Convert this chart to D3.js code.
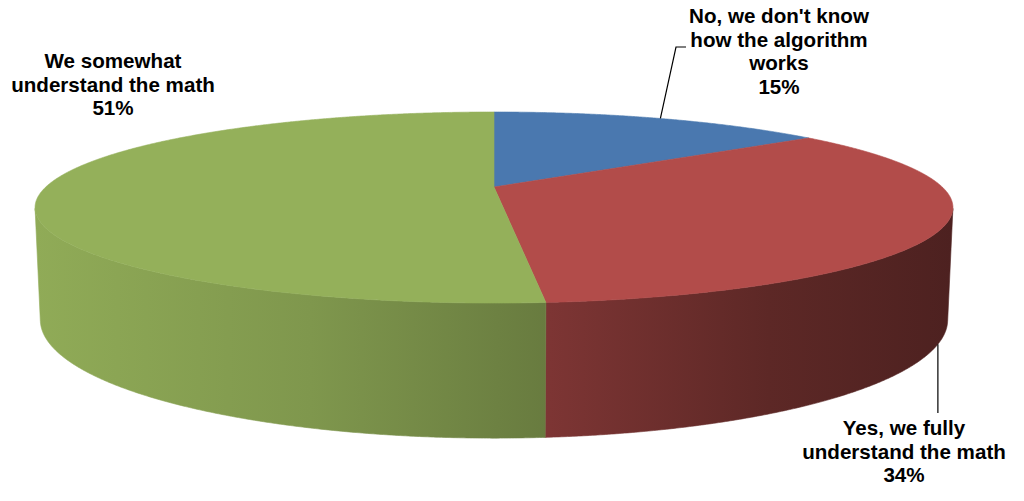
<!DOCTYPE html>
<html><head><meta charset="utf-8">
<script src="https://cdn.jsdelivr.net/npm/d3@7"></script>
<style>body{margin:0;background:#fff}svg{display:block}</style>
</head><body>
<svg id="chart" width="1024" height="501"></svg>
<script>
// ---- data ----
const categories = ["No, we don't know how the algorithm works", "Yes, we fully understand the math", "We somewhat understand the math"];
const values = [14.6, 33.95, 51.45];
const labelLines = [["No, we don't know", "how the algorithm", "works"], ["Yes, we fully", "understand the math"], ["We somewhat", "understand the math"]];
const colors = ["#4a78af", "#b24c4a", "#94b05a"];

// ---- layout ----
const cx = 494, cy = 187;
const sinP = 0.2033, cosP = Math.sqrt(1 - sinP * sinP);
const D = 4.558, S = 2043, depth = 0.248;
const svg = d3.select("#chart");

function proj(theta, Y) {
  const X = Math.sin(theta), Z = Math.cos(theta);
  const d = D - Y * sinP + Z * cosP;
  return [cx + S * X / d, cy - S * (Y * cosP + Z * sinP) / d];
}
function arcPts(a0, a1, Y) {
  const n = Math.max(4, Math.ceil((a1 - a0) / 0.005));
  return d3.range(n + 1).map(i => proj(a0 + (a1 - a0) * i / n, Y));
}

const pie = d3.pie().sort(null).startAngle(0).endAngle(2 * Math.PI).value(d => d);
const arcs = pie(values);

// gradients for side walls
const defs = svg.append("defs");
arcs.forEach((a, i) => {
  const g = defs.append("linearGradient").attr("id", "side" + i)
    .attr("gradientUnits", "userSpaceOnUse").attr("x1", 35).attr("x2", 953).attr("y1", 0).attr("y2", 0);
  const base = d3.rgb(colors[i]);
  const shade = f => d3.rgb(base.r * f, base.g * f, base.b * f).toString();
  [[0, 0.97], [0.3, 0.86], [0.56, 0.70], [0.8, 0.52], [1, 0.43]].forEach(([o, f]) =>
    g.append("stop").attr("offset", o).attr("stop-color", shade(f)));
});

const line = d3.line();
// visible (front-facing) part of the outer wall
const thS = Math.acos(-1 / (D * cosP));
const visA0 = thS, visA1 = 2 * Math.PI - thS;
arcs.forEach((a, i) => {
  const a0 = Math.max(a.startAngle, visA0), a1 = Math.min(a.endAngle, visA1);
  if (a1 <= a0) return;
  const top = arcPts(a0, a1, 0), bot = arcPts(a0, a1, -depth).reverse();
  svg.append("path").attr("d", line(top.concat(bot)) + "Z").attr("fill", `url(#side${i})`)
    .attr("stroke", `url(#side${i})`).attr("stroke-width", 0.6);
});
// top faces
arcs.forEach((a, i) => {
  const pts = [[cx, cy]].concat(arcPts(a.startAngle, a.endAngle, 0));
  svg.append("path").attr("d", line(pts) + "Z").attr("fill", colors[i])
    .attr("stroke", colors[i]).attr("stroke-width", 0.6);
});

// labels
const fmt = v => Math.round(v) + "%";
const labelPos = [{x: 779, y: 23}, {x: 904, y: 435}, {x: 113, y: 68}];
const lh = 23.5;
arcs.forEach((a, i) => {
  const t = svg.append("text").attr("text-anchor", "middle")
    .attr("font-family", "Liberation Sans, Arial, sans-serif").attr("font-weight", "bold")
    .attr("font-size", 20.6).attr("fill", "#000");
  labelLines[i].concat([fmt(values[i])]).forEach((s, k) => {
    t.append("tspan").attr("x", labelPos[i].x).attr("y", labelPos[i].y + k * lh).text(s);
  });
});

// leader lines
const mid0 = (arcs[0].startAngle + arcs[0].endAngle) / 2;
const p0 = proj(mid0, 0);
svg.append("path").attr("d", line([p0, [676, 47], [686, 47]]))
  .attr("fill", "none").attr("stroke", "#000").attr("stroke-width", 1.2);
const mid1 = (arcs[1].startAngle + arcs[1].endAngle) / 2;
const p1 = proj(mid1, -depth);
svg.append("path").attr("d", line([p1, [p1[0], 413]]))
  .attr("fill", "none").attr("stroke", "#000").attr("stroke-width", 1.2);
</script>
</body></html>
